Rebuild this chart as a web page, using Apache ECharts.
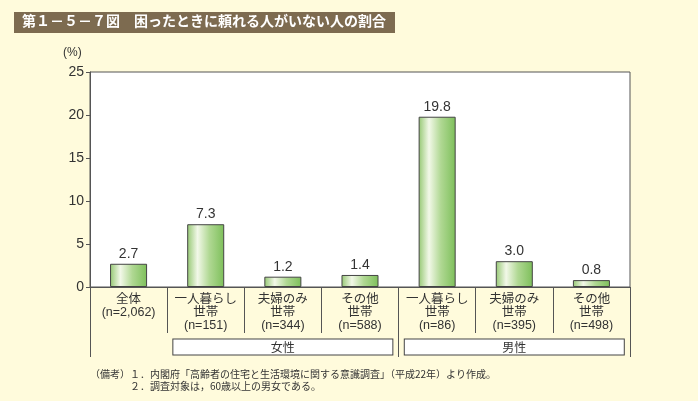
<!DOCTYPE html>
<html><head><meta charset="utf-8">
<script src="https://cdn.jsdelivr.net/npm/echarts@6/dist/echarts.min.js"></script>
<style>html,body{margin:0;padding:0;background:#fffbdc;}#c{width:698px;height:401px;}</style>
</head><body><div id="c"></div>
<script>
var categories = ['全体\n(n=2,062)', '一人暮らし\n世帯\n(n=151)', '夫婦のみ\n世帯\n(n=344)', 'その他\n世帯\n(n=588)', '一人暮らし\n世帯\n(n=86)', '夫婦のみ\n世帯\n(n=395)', 'その他\n世帯\n(n=498)'];
var values = [2.7, 7.3, 1.2, 1.4, 19.8, 3.0, 0.8];
var groupLabels = ['', '', '女性', '', '', '男性', ''];
var yTicks = [0, 5, 10, 15, 20, 25];

var font = '"Liberation Sans", "Noto Sans CJK JP", sans-serif';
var jfont = '"Noto Sans CJK JP", sans-serif';
var chart = echarts.init(document.getElementById('c'));
chart.setOption({
  backgroundColor: '#fffbdc',
  textStyle: { fontFamily: font },
  graphic: [
    { type: 'rect', left: 14, top: 12, shape: { width: 381, height: 21 }, style: { fill: '#7d6b50' } },
    { type: 'text', left: 22, top: 14, style: { text: '第１－５－７図　困ったときに頼れる人がいない人の割合', fill: '#fff', font: 'bold 14px ' + jfont } },
    { type: 'text', left: 63, top: 47, style: { text: '(%)', fill: '#333', font: '12px ' + font } },
    { type: 'text', left: 90, top: 369, style: { text: '（備考）', fill: '#333', font: '10px ' + jfont } },
    { type: 'text', left: 130, top: 369, style: { text: '１．内閣府「高齢者の住宅と生活環境に関する意識調査」（平成22年）より作成。', fill: '#333', font: '10px ' + jfont } },
    { type: 'text', left: 130, top: 381, style: { text: '２．調査対象は，60歳以上の男女である。', fill: '#333', font: '10px ' + jfont } }
  ],
  grid: { left: 90, right: 68, top: 72, bottom: 114, show: true, backgroundColor: '#fff', borderColor: '#555', borderWidth: 1 },
  xAxis: [{
    type: 'category', data: categories, position: 'bottom',
    axisLine: { lineStyle: { color: '#555' } },
    axisTick: { show: true, length: 46, lineStyle: { color: '#555' } },
    axisLabel: { interval: 0, color: '#333', fontSize: 12.5, lineHeight: 13, margin: 6 }
  }, {
    type: 'category', data: groupLabels, position: 'bottom',
    axisLine: { show: false },
    axisTick: { show: true, length: 70, interval: function (i) { return i === 0 || i === 4; }, lineStyle: { color: '#555' } },
    axisLabel: {
      interval: 0, margin: 53, color: '#333', fontSize: 12,
      formatter: function (v) { return v ? '{b|' + v + '}' : ''; },
      rich: { b: { width: 219, height: 14, lineHeight: 14, align: 'center', backgroundColor: '#fff', borderColor: '#444', borderWidth: 1, padding: [1, 0, 0, 0], fontSize: 12, color: '#333', fontFamily: jfont } }
    }
  }],
  yAxis: {
    type: 'value', min: 0, max: 25, interval: 5,
    axisLine: { show: true, lineStyle: { color: '#555' } },
    axisTick: { show: true, length: 4, lineStyle: { color: '#555' } },
    splitLine: { show: false },
    axisLabel: { color: '#333', fontSize: 14, margin: 6, formatter: function (v) { return yTicks.indexOf(v) >= 0 ? String(v) : ''; } }
  },
  series: [{
    type: 'bar', data: values, barWidth: '48%', xAxisIndex: 0,
    itemStyle: {
      borderColor: '#444', borderWidth: 1,
      color: new echarts.graphic.LinearGradient(0, 0, 1, 0, [
        { offset: 0, color: '#95c873' },
        { offset: 0.28, color: '#f2f8e8' },
        { offset: 0.6, color: '#b0d893' },
        { offset: 1, color: '#7dbf5a' }
      ])
    },
    label: { show: true, position: 'top', distance: 3, color: '#333', fontSize: 14, formatter: function (p) { return p.value.toFixed(1); } }
  }]
});
</script></body></html>
